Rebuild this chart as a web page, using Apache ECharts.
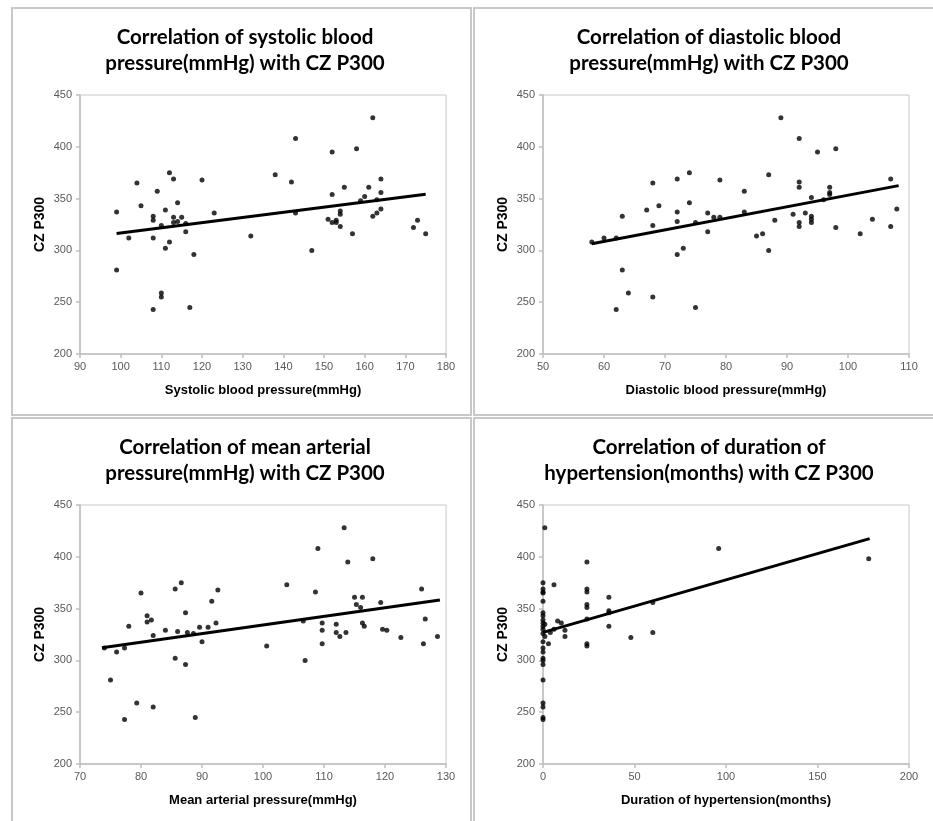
<!DOCTYPE html>
<html>
<head>
<meta charset="utf-8">
<script src="https://cdn.jsdelivr.net/npm/echarts@6/dist/echarts.min.js"></script>
<style>
html,body{margin:0;padding:0;background:#fff;}
#c{width:933px;height:821px;}
</style>
</head>
<body>
<div id="c"></div>
<script>
// ---- Data ----
const titles = [
  "Correlation of systolic blood\npressure(mmHg) with CZ P300",
  "Correlation of diastolic blood\npressure(mmHg) with CZ P300",
  "Correlation of mean arterial\npressure(mmHg) with CZ P300",
  "Correlation of duration of\nhypertension(months) with CZ P300"
];
const xNames = [
  "Systolic blood pressure(mmHg)",
  "Diastolic blood pressure(mmHg)",
  "Mean arterial pressure(mmHg)",
  "Duration of hypertension(months)"
];
const yName = "CZ P300";

const sysX = [99,99,102,104,105,108,108,108,108,109,110,110,110,111,111,112,112,113,113,113,114,114,115,116,116,117,118,120,123,132,138,142,143,143,147,151,152,152,152,153,153,154,154,154,155,157,158,159,160,161,162,162,163,163,164,164,164,172,173,175];
const sysY = [337,281,312,365,343,333,329,312,243,357,324,259,255,339,302,375,308,369,332,327,346,328,332,326,318,245,296,368,336,314,373,366,408,336,300,330,395,354,327,329,327,338,335,323,361,316,398,348,352,361,428,333,349,336,369,356,340,322,329,316];
const sysTrendX = [99,175];
const sysTrendY = [316.3,354.2];

const diaX = [58,60,62,62,63,63,64,67,68,68,68,69,72,72,72,72,73,74,74,75,75,77,77,78,79,79,83,83,85,86,87,87,88,89,91,92,92,92,92,92,93,94,94,94,94,95,96,97,97,97,98,98,102,104,107,107,108];
const diaY = [308,312,312,243,333,281,259,339,365,324,255,343,369,337,328,296,302,375,346,327,245,336,318,332,332,368,357,337,314,316,373,300,329,428,335,408,366,361,327,323,336,351,333,330,327,395,349,361,356,354,398,322,316,330,369,323,340];
const diaTrendX = [58,108.3];
const diaTrendY = [306.5,362.5];

const mapX = [74,75,76,77.3,77.3,78,79.3,80,81,81,81.7,82,82,84,85.6,85.6,86,86.6,87.3,87.3,87.6,88.6,88.9,89.6,90,91,91.6,92.3,92.6,100.6,103.9,106.6,106.9,108.6,109,109.7,109.7,109.7,112,112,112.6,113.3,113.6,113.9,115,115.3,116,116.3,116.3,116.6,118,119.3,119.6,120.3,122.6,126,126.3,126.6,128.6];
const mapY = [312,281,308,312,243,333,259,365,343,337,339,324,255,329,369,302,328,375,346,296,327,326,245,332,318,332,357,336,368,314,373,338,300,366,408,336,329,316,335,327,323,428,327,395,361,354,351,361,336,333,398,356,330,329,322,369,316,340,323];
const mapTrendX = [73.6,129];
const mapTrendY = [312.2,358.2];

const durX = [0,0,0,0,0,0,0,0,0,0,0,0,0,0,0,0,0,0,0,0,0,0,0,1,1,1,3,4,6,6,8,10,12,12,24,24,24,24,24,24,24,24,36,36,36,36,48,60,60,96,178];
const durY = [375,369,366,365,357,346,343,339,336,333,330,326,318,312,308,302,300,296,281,259,255,245,243,428,335,323,316,327,373,330,338,336,329,323,395,369,366,354,351,340,316,314,361,348,346,333,322,327,356,408,398];
const durTrendX = [0,178.5];
const durTrendY = [327,417.5];

const xMins = [90,50,70,0];
const xMaxs = [180,110,130,200];
const xIntervals = [10,10,10,50];
const yMin = 200, yMax = 450, yInterval = 50;

// ---- Chart ----
const panels = [
  {x: sysX, y: sysY, tx: sysTrendX, ty: sysTrendY},
  {x: diaX, y: diaY, tx: diaTrendX, ty: diaTrendY},
  {x: mapX, y: mapY, tx: mapTrendX, ty: mapTrendY},
  {x: durX, y: durY, tx: durTrendX, ty: durTrendY}
];
const zip = (a, b) => a.map((v, i) => [v, b[i]]);

const gridPos = [
  {left: 80, top: 95}, {left: 543, top: 95},
  {left: 80, top: 505}, {left: 543, top: 505}
];
const titleCenters = [[240, 19], [704, 19], [240, 429], [704, 429]];
const panelRects = [
  [12, 8, 459, 407], [474, 8, 480, 407],
  [12, 418, 459, 430], [474, 418, 480, 430]
];

const axisLineStyle = {color: '#bfbfbf', width: 1.5};
const labelStyle = {color: '#595959', fontSize: 11, fontFamily: 'Liberation Sans, Arial, sans-serif'};

const option = {
  backgroundColor: '#fff',
  animation: false,
  title: titles.map((t, i) => ({
    text: t,
    left: titleCenters[i][0],
    top: titleCenters[i][1],
    textAlign: 'center',
    textStyle: {fontFamily: 'Lato, sans-serif', fontWeight: 'bold', fontSize: 20.5, lineHeight: 26, color: '#000'}
  })),
  graphic: panelRects.map(r => ({
    type: 'rect', z: -1, silent: true,
    shape: {x: r[0], y: r[1], width: r[2], height: r[3]},
    style: {fill: 'none', stroke: '#c8c8c8', lineWidth: 2}
  })),
  grid: gridPos.map(g => ({
    left: g.left, top: g.top, width: 366, height: 259,
    show: true, borderColor: '#c8c8c8', borderWidth: 1, backgroundColor: 'transparent'
  })),
  xAxis: panels.map((p, i) => ({
    type: 'value', gridIndex: i,
    min: xMins[i], max: xMaxs[i], interval: xIntervals[i],
    name: xNames[i], nameLocation: 'middle', nameGap: 30,
    nameTextStyle: {fontFamily: 'Liberation Sans, Arial, sans-serif', fontWeight: 'bold', fontSize: 13, color: '#000'},
    axisLine: {show: true, lineStyle: axisLineStyle},
    axisTick: {show: true, length: 4, lineStyle: axisLineStyle},
    axisLabel: Object.assign({margin: 7}, labelStyle),
    splitLine: {show: false}
  })),
  yAxis: panels.map((p, i) => ({
    type: 'value', gridIndex: i,
    min: yMin, max: yMax, interval: yInterval,
    name: yName, nameLocation: 'middle', nameGap: 33,
    nameTextStyle: {fontFamily: 'Liberation Sans, Arial, sans-serif', fontWeight: 'bold', fontSize: 14, color: '#000'},
    axisLine: {show: true, lineStyle: axisLineStyle},
    axisTick: {show: true, length: 4, lineStyle: axisLineStyle},
    axisLabel: Object.assign({margin: 8}, labelStyle),
    splitLine: {show: false}
  })),
  series: panels.flatMap((p, i) => ([
    {
      type: 'scatter', xAxisIndex: i, yAxisIndex: i,
      data: zip(p.x, p.y), symbol: 'circle', symbolSize: 5,
      itemStyle: {color: '#000'}, silent: true
    },
    {
      type: 'line', xAxisIndex: i, yAxisIndex: i,
      data: zip(p.tx, p.ty), symbol: 'none',
      lineStyle: {color: '#000', width: 3}, silent: true, z: 3
    }
  ]))
};

const chart = echarts.init(document.getElementById('c'), null, {renderer: 'canvas'});
chart.setOption(option);
</script>
</body>
</html>
